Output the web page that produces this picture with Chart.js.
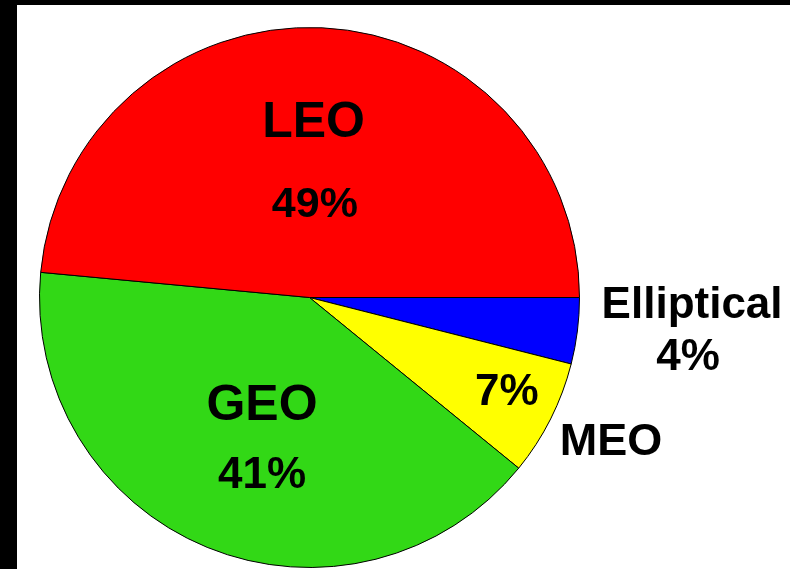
<!DOCTYPE html>
<html>
<head>
<meta charset="utf-8">
<script src="https://cdn.jsdelivr.net/npm/chart.js@4.4.0/dist/chart.umd.min.js"></script>
<style>
    html, body { margin: 0; padding: 0; background: #000; }
    body { width: 790px; height: 569px; position: relative; overflow: hidden; }
    #wrap { position: absolute; left: 17px; top: 5px; width: 773px; height: 564px; background: #fff; }
</style>
</head>
<body>
<div id="wrap"><canvas id="orbitChart" width="773" height="564"></canvas></div>
<script>
// slices run clockwise from 3 o'clock
const categories = ['Elliptical', 'MEO', 'GEO', 'LEO'];
const shares = [4, 7, 41, 49];
const sliceColors = ['#0000ff', '#ffff00', '#32d816', '#ff0000'];

// where each name / percentage sits, as fractions of the pie radius from its centre
const labelSpots = {
    LEO: { name: [0.015, -0.594, 50], pct: [0.02, -0.298, 43] },
    GEO: { name: [-0.176, 0.454, 50], pct: [-0.176, 0.706, 44] },
    MEO: { name: [1.117, 0.583, 45], pct: [0.731, 0.398, 44] },
    Elliptical: { name: [1.417, 0.076, 44], pct: [1.402, 0.269, 44] }
};

const sliceLabels = {
    id: 'sliceLabels',
    afterDatasetsDraw(chart) {
        const ctx = chart.ctx;
        const arc = chart.getDatasetMeta(0).data[0];
        const cx = arc.x, cy = arc.y, r = arc.outerRadius;
        ctx.save();
        ctx.fillStyle = '#000';
        ctx.textAlign = 'center';
        ctx.textBaseline = 'alphabetic';
        categories.forEach((name, i) => {
            const spot = labelSpots[name];
            const put = (txt, p) => {
                ctx.font = `bold ${p[2]}px "Liberation Sans", Arial, sans-serif`;
                ctx.fillText(txt, cx + p[0] * r, cy + p[1] * r);
            };
            put(name, spot.name);
            put(shares[i] + '%', spot.pct);
        });
        ctx.restore();
    }
};

new Chart(document.getElementById('orbitChart').getContext('2d'), {
    type: 'pie',
    data: {
        labels: categories,
        datasets: [{
            data: shares,
            backgroundColor: sliceColors,
            borderColor: '#000',
            borderWidth: 1
        }]
    },
    options: {
        responsive: false,
        animation: false,
        rotation: 90,
        layout: { padding: { left: 22, top: 22, right: 210, bottom: 1 } },
        plugins: {
            legend: { display: false },
            tooltip: { enabled: false }
        }
    },
    plugins: [sliceLabels]
});
</script>
</body>
</html>
